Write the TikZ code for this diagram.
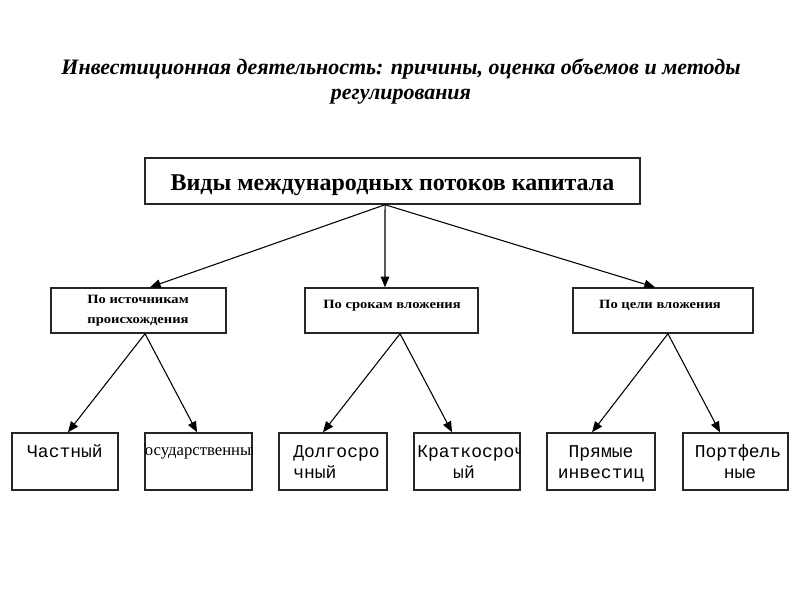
\documentclass[tikz,border=0pt]{standalone}
\usepackage{fontspec}
\setmainfont{Liberation Serif}
\newfontfamily\titlefont{Liberation Serif}
\newfontfamily\midfont[FakeStretch=1.15]{Liberation Serif}
\newfontfamily\monofont{Liberation Mono}
\usetikzlibrary{arrows.meta}
\begin{document}
\begin{tikzpicture}[x=0.75pt,y=-0.75pt,
  topbox/.style={draw=black!85, line width=1.1pt, minimum width=495*0.75pt, minimum height=46*0.75pt, inner sep=0pt},
  midbox/.style={draw=black!85, line width=1.1pt, minimum width=#1*0.75pt, minimum height=45*0.75pt, inner sep=0pt},
  lowbox/.style={draw=black!85, line width=1.1pt, minimum width=#1*0.75pt, minimum height=57*0.75pt, inner sep=0pt},
  arr/.style={draw=black, line width=0.8pt, -{Triangle[length=8pt,width=6.5pt]}},
  titletxt/.style={font=\titlefont\bfseries\itshape\fontsize{16.5}{20}\selectfont, inner sep=0pt, anchor=base},
  midtxt/.style={font=\midfont\bfseries\fontsize{9.5}{11}\selectfont, inner sep=0pt, anchor=base},
  lowtxt/.style={font=\monofont\fontsize{13.5}{16}\selectfont, inner sep=0pt, anchor=base},
  sertxt/.style={font=\fontsize{12.5}{15}\selectfont, inner sep=0pt, anchor=base}]
\useasboundingbox[fill=white] (0,0) rectangle (800,600);

% title
\node[titletxt] (t1) at (401,74) {Инвестиционная деятельность: причины, оценка объемов и методы};
\node[titletxt] (t2) at (401,99) {регулирования};

% top box
\node[topbox] (top) at (392.5,181) {};
\node[font=\bfseries\fontsize{18}{20}\selectfont, inner sep=0pt, anchor=base] (toptxt) at (392.5,190) {Виды международных потоков капитала};

% middle boxes
\node[midbox=175] (m1) at (138.5,310.5) {};
\node[midbox=173] (m2) at (391.5,310.5) {};
\node[midbox=180] (m3) at (663,310.5) {};
\node[midtxt] (m1a) at (138,303) {По источникам};
\node[midtxt] (m1b) at (138,323) {происхождения};
\node[midtxt] (m2a) at (392,308) {По срокам вложения};
\node[midtxt] (m3a) at (660,308) {По цели вложения};

% bottom boxes
\node[lowbox=106] (b1) at (65,461.5) {};
\node[lowbox=107] (b2) at (198.5,461.5) {};
\node[lowbox=108] (b3) at (333,461.5) {};
\node[lowbox=106] (b4) at (467,461.5) {};
\node[lowbox=108] (b5) at (601,461.5) {};
\node[lowbox=105] (b6) at (735.5,461.5) {};

\node[lowtxt] (b1a) at (65,457) {Частный};
\begin{scope}
  \clip (b2.south west) rectangle (b2.north east);
  \node[sertxt] (b2a) at (198.5,455) {Государственный};
\end{scope}
\node[lowtxt, anchor=base west] (b3a) at (293,457) {Долгосро};
\node[lowtxt, anchor=base west] (b3b) at (293,478) {чный};
\begin{scope}
  \clip (b4.south west) rectangle (b4.north east);
  \node[lowtxt, anchor=base west] (b4a) at (417,457) {Краткосрочн};
\end{scope}
\node[lowtxt] (b4b) at (464,478) {ый};
\node[lowtxt] (b5a) at (601,457) {Прямые};
\node[lowtxt] (b5b) at (601,478) {инвестиц};
\node[lowtxt] (b6a) at (738,457) {Портфель};
\node[lowtxt] (b6b) at (740,478) {ные};

% connectors
\draw[arr] ([xshift=-5.6pt]top.south) -- ([xshift=8.6pt]m1.north);
\draw[arr] ([xshift=-5.6pt]top.south) -- ([xshift=-4.9pt]m2.north);
\draw[arr] ([xshift=-5.6pt]top.south) -- ([xshift=-6pt]m3.north);
\draw[arr] ([xshift=4.9pt]m1.south) -- ([xshift=2.2pt]b1.north);
\draw[arr] ([xshift=4.9pt]m1.south) -- ([xshift=-1.1pt]b2.north);
\draw[arr] ([xshift=6.4pt]m2.south) -- ([xshift=-7.5pt]b3.north);
\draw[arr] ([xshift=6.4pt]m2.south) -- ([xshift=-11.2pt]b4.north);
\draw[arr] ([xshift=3.7pt]m3.south) -- ([xshift=-6.7pt]b5.north);
\draw[arr] ([xshift=3.7pt]m3.south) -- ([xshift=-11.6pt]b6.north);
\end{tikzpicture}
\end{document}
